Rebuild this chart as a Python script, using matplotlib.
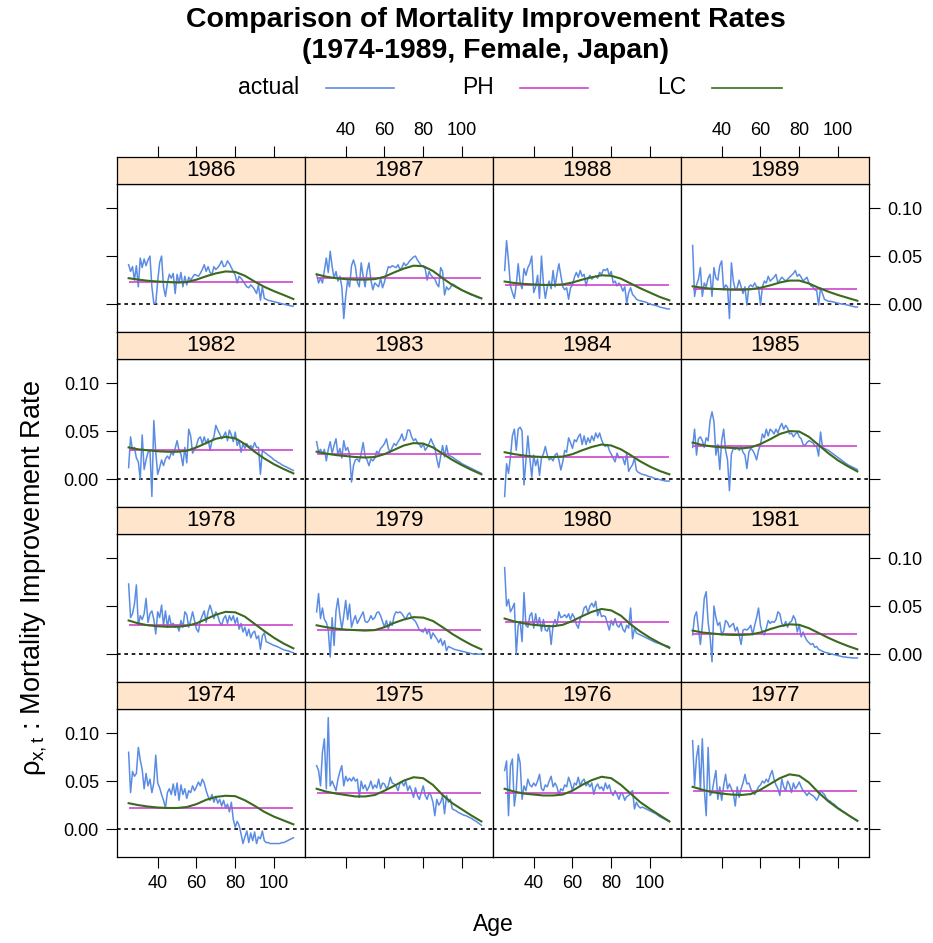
import numpy as np
import matplotlib.pyplot as plt
from matplotlib.lines import Line2D

plt.rcParams['font.family'] = ['Liberation Sans', 'DejaVu Sans']
plt.rcParams['mathtext.fontset'] = 'custom'
plt.rcParams['mathtext.rm'] = 'Liberation Sans'
plt.rcParams['mathtext.it'] = 'Liberation Sans'

# improvement rates, in units of 0.001
ages = np.arange(25, 111)
lc_ages = np.arange(25, 111, 5)
years = list(range(1974, 1990))

act_1974 = [80, 38, 60, 55, 58, 85, 72, 62, 42, 58, 45, 52, 38, 48, 77, 48, 43, 36, 30, 22,
            38, 42, 36, 47, 35, 48, 30, 46, 36, 42, 32, 40, 38, 45, 40, 44, 49, 45, 52, 48,
            40, 34, 30, 36, 28, 34, 27, 31, 24, 30, 22, 26, 18, 28, 10, 2, 8, 4, -5, -15,
            -8, -2, -14, -4, -12, -3, -15, -8, -10, -2, -12, -14, -14, -15, -15, -15, -15, -15, -15, -14,
            -14, -13, -12, -11, -10, -9]
act_1975 = [66, 61, 45, 80, 94, 42, 116, 45, 50, 45, 40, 52, 60, 66, 45, 55, 50, 53, 50, 54,
            50, 52, 33, 50, 42, 46, 40, 44, 50, 42, 46, 43, 52, 42, 48, 47, 42, 45, 54, 48,
            47, 45, 40, 48, 49, 45, 50, 40, 45, 40, 33, 43, 35, 31, 38, 45, 35, 31, 38, 35,
            28, 14, 31, 25, 28, 35, 16, 35, 28, 31, 21, 20, 19, 17.5, 16.5, 15.5, 14.5, 14, 13, 12,
            11, 9.5, 8.5, 7, 5.5, 4]
act_1976 = [61, 71, 14, 66, 73, 24, 40, 78, 69, 31, 45, 40, 52, 46, 44, 48, 45, 50, 57, 42,
            40, 46, 44, 50, 55, 44, 48, 44, 36, 42, 40, 46, 44, 54, 48, 40, 48, 46, 54, 45,
            50, 52, 45, 48, 44, 48, 36, 44, 47, 42, 44, 40, 48, 42, 46, 38, 35, 40, 36, 31,
            38, 36, 30, 34, 35, 38, 40, 21, 28, 24, 22, 23, 22, 21, 20, 19, 18, 17, 16, 14.5,
            13, 12, 11, 10, 9, 8]
act_1977 = [92, 45, 75, 87, 40, 94, 42, 14, 85, 35, 38, 50, 61, 31, 44, 30, 45, 57, 42, 47,
            42, 38, 24, 44, 33, 42, 48, 57, 47, 48, 42, 38, 36, 40, 44, 46, 50, 48, 52, 49,
            56, 61, 52, 46, 42, 35, 52, 44, 40, 50, 46, 38, 48, 42, 45, 49, 44, 40, 38, 35,
            38, 36, 35, 33, 30, 34, 40, 38, 36, 32, 30, 29, 27, 26, 24, 22, 21, 19, 18, 16.5,
            15, 13.5, 12, 11, 9.5, 8.5]
act_1978 = [73, 38, 42, 52, 72, 30, 40, 36, 42, 58, 33, 42, 45, 36, 21, 44, 38, 51, 30, 45,
            28, 40, 30, 32, 28, 30, 24, 35, 28, 44, 41, 28, 35, 44, 35, 26, 23, 35, 40, 45,
            33, 44, 51, 44, 37, 44, 40, 33, 30, 37, 40, 32, 40, 35, 40, 32, 38, 26, 32, 23,
            28, 19, 26, 17, 22, 24, 16, 19, 5, 19, 22, 13, 12, 11, 10, 9, 8.5, 7.5, 6.5, 5.5,
            4.5, 4, 3.5, 3, 2, 1.5]
act_1979 = [44, 63, 37, 48, 36, 33, 25, -3, 38, 9, 45, 58, 40, 26, 40, 56, 36, 52, 28, 35,
            40, 32, 36, 40, 44, 34, 33, 35, 40, 36, 38, 43, 44, 40, 34, 28, 35, 26, 34, 30,
            40, 44, 43, 44, 42, 39, 36, 41, 43, 38, 36, 34, 30, 25, 24, 23, 27, 21, 26, 16,
            22, 19, 16, 12, 16, 9, 14, 3.5, 8, 7, 6, 5, 4.5, 4, 3.5, 3, 2.5, 2, 1.5, 1,
            0.5, 0, 0, 0, 0, 0]
act_1980 = [90, 50, 57, 44, 48, 53, 0, 30, 34, 13, 64, 30, 28, 40, 43, 27, 42, 30, 38, 24,
            36, 25, 24, 30, 10, 30, 36, 30, 44, 38, 39, 41, 38, 42, 36, 42, 38, 31, 27, 37,
            40, 48, 50, 43, 50, 53, 49, 55, 40, 46, 39, 40, 39, 32, 25, 35, 30, 37, 30, 28,
            33, 26, 23, 30, 27, 48, 16, 27, 22, 21, 20, 19, 18, 17, 16, 15, 14, 13, 12, 11.5,
            11, 10, 9.5, 9, 8.5, 7.5]
act_1981 = [20, 39, 44, 26, 10, 30, 58, 65, 33, 18, -8, 50, 38, 30, 33, 20, 24, 35, 33, 28,
            30, 32, 24, 28, 20, 10, 25, 26, 25, 27, 30, 20, 30, 38, 48, 30, 22, 20, 27, 35,
            32, 34, 33, 36, 44, 42, 32, 29, 34, 28, 33, 34, 40, 36, 23, 30, 18, 23, 18, 14,
            12, 10, 11, 7, 8, 5, 4, 3, 2, 1.5, 1, 0.5, 0, -0.5, -1, -1.5, -2, -2.5, -3, -3,
            -3.5, -3.5, -4, -4, -4, -4]
act_1982 = [12, 44, 30, 33, 22, 18, 0, 46, 10, 20, 28, 30, -18, 61, 28, 5, 12, 20, 14, 21,
            24, 21, 28, 25, 32, 40, 30, 26, 14, 33, 17, 52, 45, 27, 31, 35, 42, 44, 37, 44,
            37, 42, 30, 40, 44, 56, 51, 47, 42, 45, 49, 40, 51, 46, 39, 49, 35, 40, 28, 37,
            32, 37, 33, 35, 32, 38, 33, 33, 5, 30, 28, 26.5, 25, 23.5, 22, 20, 19, 17.5, 16.5, 15,
            14, 13, 12, 11, 10, 9]
act_1983 = [39, 28, 31, 26, 31, 19, 31, 39, 27, 35, 42, 25, 32, 22, 40, 30, 33, 26, -3, 14,
            20, 21, 18, 27, 38, 24, 20, 14, 21, 19, 22, 29, 27, 32, 34, 37, 42, 32, 28, 33,
            37, 35, 39, 42, 47, 40, 42, 51, 51, 44, 40, 42, 38, 36, 33, 37, 30, 33, 37, 42,
            37, 33, 21, 12, 24, 35, 23, 35, 25, 24, 23, 21.5, 20, 19, 17.5, 16, 15, 14, 13, 12,
            11, 10, 9, 8, 7, 6]
act_1984 = [-18, 16, 6, 23, 45, 52, 30, 52, 54, 50, -6, 20, 45, 22, 2, 25, 14, 21, 4, 22,
            26, 34, 25, 20, 22, 19, 25, 27, 20, 9.5, 18, 30, 28, 43, 38, 32, 41, 39, 44, 47,
            36, 45, 36, 43, 38, 45, 40, 48, 43, 48, 41, 36, 34, 36, 30, 26, 22, 18, 27, 22,
            23, 22, 15, 27, 8, 12, 15, 22, 9, 7, 6, 5, 4.5, 4, 3, 2.5, 2, 1, 0.5, 0,
            -0.5, -1, -1.5, -2, -2, -2]
act_1985 = [33, 52, 25, 42, 44, 40, 33, 43, 40, 61, 70, 60, 25, 36, 10, 40, 52, 30, 20, -12,
            26, 32, 31, 33, 30, 34, 28, 25, 11, 28, 32, 30, 26, 20, 30, 36, 47, 43, 52, 45,
            52, 50, 47, 52, 48, 54, 58, 52, 56, 53, 47, 48, 44, 47, 49, 44, 42, 36, 35, 38,
            40, 39, 38, 35, 34, 24, 49, 33, 32, 31, 30, 28.5, 27, 25.5, 24, 22.5, 21, 19.5, 18, 16.5,
            15, 14, 13, 12, 11, 10]
act_1986 = [41, 34, 39, 25, 40, 18, 48, 38, 47, 40, 46, 50, 18, 1, 1, 24, 43, 50, 18, 8,
            22, 31, 27, 32, 11, 31, 22, 33, 18, 29, 20, 28, 25, 28, 31, 30, 29, 32, 36, 41,
            34, 39, 33, 31, 39, 36, 38, 41, 45, 39, 40, 45, 42, 38, 34, 30, 22, 29, 27, 24,
            21, 18, 17, 20, 18, 15, 11, 20, 4, 18, 6, 5, 4, 3.5, 3, 2.5, 2, 1.5, 1, 0.5,
            0, -0.5, -1, -1.5, -2, -2]
act_1987 = [31, 22, 27, 22, 35, 48, 33, 55, 39, 27, 34, 24, 29, 18, -15, 8, 25, 18, 40, 46,
            39, 23, 18, 43, 29, 18, 34, 43, 25, 15, 22, 20, 18, 27, 17, 23, 32, 39, 38, 40,
            39, 38, 41, 36, 38, 43, 40, 42, 45, 47, 49, 50, 46, 43, 40, 39, 37, 25, 34, 30,
            28, 26, 21, 18, 38, 34, 9.5, 18, 15, 17, 21, 20, 18.5, 17, 16, 14.5, 13.5, 12.5, 11.5, 10.5,
            9.5, 9, 8, 7, 6.5, 6]
act_1988 = [35, 66, 45, 19, 12, 6, 20, 42, 22, 16, 37, 30, 38, 42, 50, 12, 18, 30, 6, 50,
            22, 6, 18, 24, 16, 35, 18, 31, 42, 30, 18, 15, 17, 5, 17, 20, 28, 33, 28, 35,
            29, 31, 19, 27, 30, 26, 28, 29, 27, 33, 31, 36, 35, 37, 30, 34, 22, 24, 19, 22,
            19, 13.5, 18, 1, 12, 17, 10, 8, 5, 4, 3.5, 3, 2.5, 2, 1, 0, -0.5, -1, -1.5, -2,
            -3, -3.5, -4, -4.5, -5, -5]
act_1989 = [61, 8, 20, 26, 38, 8, 22, 18, 27, 31, 8, 38, 27, 25, 40, 45, 15, 20, 18, -15,
            43, 24, 15, 17, 25, 18, 11, 18, -1, 18, 20, 18, 22, 18, 18, -1, 18, 24, 22, 29,
            24, 26, 28, 31, 22, 25, 28, 26, 24, 26, 28, 30, 32, 35, 29, 31, 28, 24, 26, 28,
            22, 19, 18, 15, 14, -1, 17, 11, 5, 4, 3, 3, 2.5, 2, 1.5, 1, 0.5, 0, 0, -0.5,
            -1, -1.5, -2, -2.5, -3, -3]

# Lee-Carter fitted rates at ages 25, 30, ..., 110
lc_1974 = [27, 25, 23.5, 22.5, 22, 22, 23, 26, 30.5, 33.5, 34.7, 34.3, 30, 24.3, 18, 13, 9, 5]
lc_1975 = [42, 39, 37, 35.5, 34, 34, 35.5, 40, 45, 50.5, 54, 53, 46, 35.5, 27, 20.5, 14, 8]
lc_1976 = [42, 39, 37, 36, 35, 35, 36, 40, 46, 51, 54.5, 53, 46, 37, 28, 21, 14.5, 8]
lc_1977 = [44, 41, 38.5, 37, 36, 35.5, 36.5, 41, 47, 53, 57, 55.5, 48.5, 38, 29, 21.5, 15, 8.7]
lc_1978 = [35, 32, 30, 29, 28.5, 28.5, 29.5, 32, 36.5, 41, 44, 43.5, 39, 31.5, 24, 17, 11, 6]
lc_1979 = [30, 28, 26.5, 25.5, 25, 24.5, 25, 28, 32.5, 36, 38.5, 38, 34.5, 28, 21, 15, 9.5, 5]
lc_1980 = [37, 34, 32, 30.5, 29.5, 29, 30.5, 34.5, 39.5, 44, 47, 45.5, 40, 31, 23.5, 17, 11.5, 6.5]
lc_1981 = [24.5, 22.5, 21.5, 20.5, 20, 20, 20.5, 22.5, 26, 29, 31, 30.5, 27, 22, 17, 12.5, 8.5, 5]
lc_1982 = [33, 31, 30, 29, 28.5, 28.5, 29.5, 33, 37.5, 42, 44, 42.5, 36.5, 28.5, 21.5, 15.5, 10.5, 6]
lc_1983 = [28.5, 26.5, 25, 24, 23, 22.5, 23, 26, 30.5, 35, 37.5, 37, 33, 26.5, 20, 14.5, 9.5, 5]
lc_1984 = [28, 26, 24.5, 23.5, 23, 23, 23.5, 26, 30, 33.5, 36, 35, 31, 25, 18.5, 13, 8.5, 5]
lc_1985 = [38, 35.5, 34, 33, 32.5, 32, 33, 36.5, 41.5, 47, 50, 49.5, 44, 35.5, 27, 19.5, 13.5, 8]
lc_1986 = [27, 25.5, 24.3, 23.5, 23, 22.5, 23, 25.5, 29, 32, 34, 33.5, 29.5, 23.5, 18, 13.5, 9.5, 5.3]
lc_1987 = [31, 28.5, 27, 26, 25.5, 25.5, 26, 28.5, 33, 37, 40, 39.5, 34.5, 27, 20, 14.5, 10, 6]
lc_1988 = [23.5, 22, 21, 20.5, 20, 20, 20.5, 22.5, 25.5, 28, 30, 29.5, 26.5, 21.5, 16.5, 12, 7.5, 4]
lc_1989 = [18.5, 17, 16, 15.5, 15, 15, 15.5, 17, 19.5, 22.5, 24.5, 24.5, 21.5, 17, 13, 9.5, 6.5, 3.5]

# PH (constant over age) rate per year
ph_rates = [22.5, 37.5, 37.5, 40, 30.4, 25.2, 33, 21, 30, 26, 23.3, 34, 22.9, 27, 19.5, 15.5]

actual = dict(zip(years, [act_1974, act_1975, act_1976, act_1977, act_1978, act_1979,
                          act_1980, act_1981, act_1982, act_1983, act_1984, act_1985,
                          act_1986, act_1987, act_1988, act_1989]))
lc = dict(zip(years, [lc_1974, lc_1975, lc_1976, lc_1977, lc_1978, lc_1979, lc_1980,
                      lc_1981, lc_1982, lc_1983, lc_1984, lc_1985, lc_1986, lc_1987,
                      lc_1988, lc_1989]))
ph = dict(zip(years, ph_rates))

BLUE = '#5b8ce3'
MAGENTA = '#cc44cc'
GREEN = '#3b6a1e'
STRIP = '#ffe5cc'

W, H = 933, 943
fig = plt.figure(figsize=(W / 100, H / 100), dpi=100)

col_left = [117, 305, 493, 681]
pan_w = 188
strip_top = [157, 332, 507, 682]
strip_h = 27
pan_h = 148

def fx(x):
    return x / W

def fy(y):
    return 1 - y / H

for r in range(4):
    for c in range(4):
        yr = 1974 + 4 * (3 - r) + c
        top = strip_top[r]
        ax = fig.add_axes([fx(col_left[c]), fy(top + strip_h + pan_h), pan_w / W, pan_h / H])
        sax = fig.add_axes([fx(col_left[c]), fy(top + strip_h), pan_w / W, strip_h / H])

        ax.axhline(0, color='black', lw=1.2, ls=(0, (2.2, 2.2)), zorder=1)
        ax.plot(ages, np.array(actual[yr]) / 1000, color=BLUE, lw=1.1, zorder=2)
        ax.hlines(ph[yr] / 1000, ages[0], ages[-1], color=MAGENTA, lw=1.2, zorder=3)
        ax.plot(lc_ages, np.array(lc[yr]) / 1000, color=GREEN, lw=1.5, zorder=4)

        ax.set_xlim(19, 116)
        ax.set_ylim(-0.029, 0.125)
        ax.set_xticks([40, 60, 80, 100])
        ax.set_yticks([0.0, 0.05, 0.10])
        ax.set_yticklabels(['0.00', '0.05', '0.10'])
        ax.tick_params(direction='out', length=8, width=0.8, labelsize=13, pad=5,
                       left=(c == 0), labelleft=(c == 0 and r in (1, 3)),
                       right=(c == 3), labelright=(c == 3 and r in (0, 2)),
                       bottom=(r == 3), labelbottom=(r == 3 and c in (0, 2)),
                       top=False, labeltop=False)
        for sp in ax.spines.values():
            sp.set_linewidth(0.9)

        sax.set_facecolor(STRIP)
        sax.set_xlim(19, 116)
        sax.set_ylim(0, 1)
        sax.set_yticks([])
        sax.set_xticks([40, 60, 80, 100])
        sax.tick_params(axis='x', direction='out', length=8, width=0.8, labelsize=13, pad=5,
                        bottom=False, labelbottom=False,
                        top=(r == 0), labeltop=(r == 0 and c in (1, 3)))
        for sp in sax.spines.values():
            sp.set_linewidth(0.9)
        sax.text(0.5, 0.5, str(yr), transform=sax.transAxes, ha='center', va='center',
                 fontsize=16)

# title
fig.text(fx(486), fy(20), 'Comparison of Mortality Improvement Rates', ha='center',
         va='center', fontsize=20.5, fontweight='bold')
fig.text(fx(486), fy(51), '(1974-1989, Female, Japan)', ha='center', va='center',
         fontsize=20.5, fontweight='bold')

# key
key_items = [('actual', BLUE, 299, 326, 394),
             ('PH', MAGENTA, 494, 520, 588),
             ('LC', GREEN, 686, 712, 782)]
for label, col, tx, x0, x1 in key_items:
    fig.text(fx(tx), fy(88), label, ha='right', va='center', fontsize=16.5)
    fig.add_artist(Line2D([fx(x0), fx(x1)], [fy(88), fy(88)], color=col, lw=1.2,
                          transform=fig.transFigure))

fig.text(fx(493), fy(925), 'Age', ha='center', va='center', fontsize=16.5)
fig.text(fx(34), fy(578), r'$\rho_{x,t}$ : Mortality Improvement Rate', ha='center',
         va='center', rotation=90, fontsize=19.5)

fig.savefig('out.png', dpi=100)
